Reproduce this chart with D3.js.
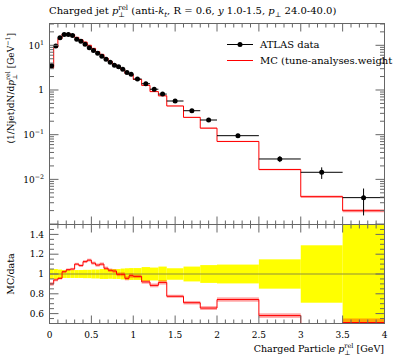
<!DOCTYPE html>
<html lang="en">
<head>
  <meta charset="UTF-8">
  <title>Charged jet p_T^rel – ATLAS vs MC</title>
  <script src="https://d3js.org/d3.v7.min.js"></script>
  <style>
    body { margin: 0; background: #fff; }
    svg { display: block; font-family: "DejaVu Serif", "Liberation Serif", serif; }
    .frame { fill: none; stroke: #666; stroke-width: 1px; }
    .tick { stroke: #666; stroke-width: 1px; }
    .lbl { font-size: 9px; fill: #000; }
  </style>
</head>
<body>
  <svg id="chart" width="397" height="358"></svg>
  <script>
    // Bin edges (GeV)
    const binEdges = [0, 0.05, 0.1, 0.15, 0.2, 0.25, 0.3, 0.35, 0.4, 0.45, 0.5,
                      0.55, 0.6, 0.65, 0.7, 0.75, 0.8, 0.85, 0.9, 0.95, 1.0,
                      1.1, 1.2, 1.3, 1.4, 1.6, 1.8, 2.0, 2.5, 3.0, 3.5, 4.0];
    // ATLAS data, (1/Njet) dN/dp_T^rel
    const dataValues = [3.5, 9.7, 14.8, 17.5, 17.5, 16.5, 13.7, 12.3, 10.5, 8.8,
                        7.7, 6.6, 5.7, 4.9, 4.2, 3.6, 3.3, 2.9, 2.45, 2.25,
                        1.76, 1.38, 1.04, 0.81, 0.567, 0.344, 0.213, 0.095, 0.0286, 0.0144, 0.0039];
    // relative data uncertainty (yellow band)
    const dataErr = [0.05, 0.05, 0.045, 0.04, 0.04, 0.04, 0.04, 0.04, 0.042, 0.042,
                     0.045, 0.045, 0.05, 0.05, 0.048, 0.05, 0.05, 0.055, 0.058, 0.06,
                     0.06, 0.07, 0.065, 0.075, 0.058, 0.075, 0.09, 0.095, 0.148, 0.29, 0.6];
    // MC prediction
    const mcValues = [3.15, 9.12, 14.15, 17.9, 18.27, 17.33, 15.07, 13.35, 11.81, 10.03,
                      8.55, 7.19, 6.27, 5.18, 4.36, 3.71, 3.29, 2.89, 2.34, 2.21,
                      1.72, 1.27, 0.92, 0.741, 0.439, 0.244, 0.140, 0.0705, 0.0166, 0.0041, 0.00199];
    const mcErr = [0.02, 0.015, 0.012, 0.012, 0.012, 0.012, 0.012, 0.012, 0.013, 0.013,
                   0.014, 0.015, 0.015, 0.016, 0.017, 0.018, 0.019, 0.02, 0.021, 0.022,
                   0.018, 0.02, 0.022, 0.024, 0.02, 0.025, 0.03, 0.03, 0.04, 0.06, 0.08];
    // MC / data
    const ratioValues = [0.90, 0.94, 0.956, 1.023, 1.044, 1.05, 1.10, 1.085, 1.125, 1.14,
                         1.11, 1.09, 1.10, 1.058, 1.038, 1.03, 0.997, 0.997, 0.956, 0.983,
                         0.976, 0.92, 0.885, 0.915, 0.775, 0.71, 0.656, 0.742, 0.58, 0.285, 0.51];

    const padL = 49.5, padR = 384.5, padT = 23.5, padM = 224.5, padB = 323.5;

    const svg = d3.select("#chart");
    const x = d3.scaleLinear().domain([0, 4]).range([padL, padR]);
    const y = d3.scaleLog().domain([Math.pow(10, -3.01), Math.pow(10, 1.488)]).range([padM, padT]);
    const r = d3.scaleLinear().domain([0.5, 1.5]).range([padB, padM]);

    const bins = d3.range(dataValues.length).map(i => ({
      x0: binEdges[i], x1: binEdges[i + 1],
      d: dataValues[i], de: dataErr[i],
      mc: mcValues[i], me: mcErr[i], ratio: ratioValues[i]
    }));

    // clip paths
    const defs = svg.append("defs");
    defs.append("clipPath").attr("id", "clipMain").append("rect")
      .attr("x", padL).attr("y", padT).attr("width", padR - padL).attr("height", padM - padT);
    defs.append("clipPath").attr("id", "clipRatio").append("rect")
      .attr("x", padL).attr("y", padM).attr("width", padR - padL).attr("height", padB - padM);

    function stepPath(vals, ys) {
      let p = "";
      bins.forEach((b, i) => {
        p += (i === 0 ? "M" : "L") + x(b.x0) + "," + ys(vals[i]) + "H" + x(b.x1);
      });
      return p;
    }

    // rich text with italics, sub/superscripts (stacked sub under sup)
    function rich(sel, parts, size) {
      let shift = 0, lastW = 0, pendingDx = 0;
      parts.forEach(p => {
        const target = p.sup ? -size * 0.4 : p.sub ? size * 0.3 : 0;
        const ts = sel.append("tspan").attr("dy", target - shift).text(p.t);
        if (p.sup || p.sub) ts.attr("font-size", size * 0.7);
        if (p.it) ts.attr("font-style", "italic");
        let dx = pendingDx; pendingDx = 0;
        if (p.stack) dx -= lastW;
        if (dx) ts.attr("dx", dx);
        const w = ts.node().getComputedTextLength();
        if (p.stack && lastW > w) pendingDx = lastW - w;
        lastW = w;
        shift = target;
      });
      if (shift) sel.append("tspan").attr("dy", -shift).text("");
    }

    // ---- main panel ----
    const gMain = svg.append("g").attr("clip-path", "url(#clipMain)");

    gMain.selectAll("rect.mcband").data(bins).join("rect")
      .attr("x", b => x(b.x0)).attr("width", b => x(b.x1) - x(b.x0))
      .attr("y", b => y(b.mc * (1 + b.me)))
      .attr("height", b => y(b.mc * (1 - b.me)) - y(b.mc * (1 + b.me)))
      .attr("fill", "rgba(255,0,0,0.35)");

    gMain.append("path")
      .attr("d", stepPath(mcValues, y))
      .attr("fill", "none").attr("stroke", "#f00").attr("stroke-width", 1);

    const pts = gMain.selectAll("g.pt").data(bins).join("g");
    pts.append("line")
      .attr("x1", b => x(b.x0)).attr("x2", b => x(b.x1))
      .attr("y1", b => y(b.d)).attr("y2", b => y(b.d))
      .attr("stroke", "#000").attr("stroke-width", 1);
    pts.append("line")
      .attr("x1", b => x((b.x0 + b.x1) / 2)).attr("x2", b => x((b.x0 + b.x1) / 2))
      .attr("y1", b => y(b.d * (1 + b.de))).attr("y2", b => y(Math.max(b.d * (1 - b.de), 1e-4)))
      .attr("stroke", "#000").attr("stroke-width", 1);
    pts.append("circle")
      .attr("cx", b => x((b.x0 + b.x1) / 2)).attr("cy", b => y(b.d))
      .attr("r", 2.5).attr("fill", "#000");

    // ---- ratio panel ----
    const gRatio = svg.append("g").attr("clip-path", "url(#clipRatio)");
    gRatio.selectAll("rect.band").data(bins).join("rect")
      .attr("x", b => x(b.x0)).attr("width", b => x(b.x1) - x(b.x0))
      .attr("y", b => r(1 + b.de)).attr("height", b => r(1 - b.de) - r(1 + b.de))
      .attr("fill", "#ffff00");
    gRatio.append("line")
      .attr("x1", padL).attr("x2", padR).attr("y1", r(1)).attr("y2", r(1))
      .attr("stroke", "#8f8f3a").attr("stroke-width", 1);
    gRatio.selectAll("rect.mcr").data(bins).join("rect")
      .attr("x", b => x(b.x0)).attr("width", b => x(b.x1) - x(b.x0))
      .attr("y", b => r(b.ratio * (1 + b.me)))
      .attr("height", b => r(b.ratio * (1 - b.me)) - r(b.ratio * (1 + b.me)))
      .attr("fill", "rgba(255,0,0,0.35)");
    gRatio.append("path")
      .attr("d", stepPath(ratioValues, r))
      .attr("fill", "none").attr("stroke", "#f00").attr("stroke-width", 1);

    // ---- frames and ticks ----
    const gAx = svg.append("g");
    gAx.append("rect").attr("class", "frame")
      .attr("x", padL).attr("y", padT).attr("width", padR - padL).attr("height", padM - padT);
    gAx.append("rect").attr("class", "frame")
      .attr("x", padL).attr("y", padM).attr("width", padR - padL).attr("height", padB - padM);

    const xMajor = d3.range(0, 4.001, 0.5);
    const xMinor = d3.range(0, 4.001, 0.1).filter(v => Math.abs(v * 2 - Math.round(v * 2)) > 1e-6);
    function xTicks(y0, dir) {
      xMajor.forEach(v => gAx.append("line").attr("class", "tick")
        .attr("x1", x(v)).attr("x2", x(v)).attr("y1", y0).attr("y2", y0 + dir * 8));
      xMinor.forEach(v => gAx.append("line").attr("class", "tick")
        .attr("x1", x(v)).attr("x2", x(v)).attr("y1", y0).attr("y2", y0 + dir * 4));
    }
    xTicks(padT, 1); xTicks(padM, -1); xTicks(padM, 1); xTicks(padB, -1);

    function yTick(yy, len) {
      gAx.append("line").attr("class", "tick").attr("x1", padL).attr("x2", padL + len).attr("y1", yy).attr("y2", yy);
      gAx.append("line").attr("class", "tick").attr("x1", padR).attr("x2", padR - len).attr("y1", yy).attr("y2", yy);
    }
    const [ylo, yhi] = y.domain();
    for (let e = -3; e <= 1; e++) {
      for (let k = 1; k <= 9; k++) {
        const v = k * Math.pow(10, e);
        if (v < ylo || v > yhi) continue;
        yTick(y(v), k === 1 ? 9 : 4.5);
      }
    }
    const rMajor = [0.6, 0.8, 1.0, 1.2, 1.4];
    d3.range(0.5, 1.501, 0.05).forEach(v => {
      const isMajor = rMajor.some(m => Math.abs(m - v) < 1e-6);
      yTick(r(v), isMajor ? 9 : 4.5);
    });

    // tick labels
    const xLabels = ["0", "0.5", "1", "1.5", "2", "2.5", "3", "3.5", "4"];
    xMajor.forEach((v, i) => svg.append("text").attr("class", "lbl")
      .attr("x", x(v)).attr("y", 338).attr("text-anchor", "middle").text(xLabels[i]));

    const yMajorVals = [10, 1, 0.1, 0.01];
    const yMajorSup = ["1", null, "\u22121", "\u22122"];
    yMajorVals.forEach((v, i) => {
      const t = svg.append("text").attr("class", "lbl")
        .attr("x", 44).attr("y", y(v) + 3.2).attr("text-anchor", "end");
      if (yMajorSup[i]) rich(t, [{ t: "10" }, { t: yMajorSup[i], sup: true }], 9);
      else t.text("1");
    });
    const rLabels = ["0.6", "0.8", "1", "1.2", "1.4"];
    rMajor.forEach((v, i) => svg.append("text").attr("class", "lbl")
      .attr("x", 44).attr("y", r(v) + 3.2).attr("text-anchor", "end").text(rLabels[i]));

    // title
    const title = svg.append("text").attr("x", 49).attr("y", 14).attr("font-size", 10);
    rich(title, [
      { t: "Charged jet " }, { t: "p", it: true }, { t: "rel", sup: true }, { t: "\u22a5", sub: true, stack: true },
      { t: " (anti-" }, { t: "k", it: true }, { t: "t", sub: true, it: true },
      { t: ", R = 0.6, " }, { t: "y", it: true }, { t: " 1.0-1.5, " },
      { t: "p", it: true }, { t: "\u22a5", sub: true }, { t: " 24.0-40.0)" }
    ], 10);

    // axis titles
    const yl = svg.append("text").attr("transform", "translate(14,33) rotate(-90)")
      .attr("text-anchor", "end").attr("font-size", 9);
    rich(yl, [
      { t: "(1/Njet)dN/d" }, { t: "p", it: true }, { t: "rel", sup: true }, { t: "\u22a5", sub: true, stack: true },
      { t: " [GeV" }, { t: "\u22121", sup: true }, { t: "]" }
    ], 9);

    svg.append("text").attr("transform", "translate(14,274) rotate(-90)")
      .attr("text-anchor", "middle").attr("font-size", 9.5).text("MC/data");

    const xl = svg.append("text").attr("x", 384).attr("y", 352)
      .attr("text-anchor", "end").attr("font-size", 9.5);
    rich(xl, [
      { t: "Charged Particle " }, { t: "p", it: true }, { t: "rel", sup: true }, { t: "\u22a5", sub: true, stack: true },
      { t: " [GeV]" }
    ], 9.5);

    // legend
    const leg = svg.append("g");
    leg.append("line").attr("x1", 227).attr("x2", 253).attr("y1", 44.5).attr("y2", 44.5)
      .attr("stroke", "#000").attr("stroke-width", 1);
    leg.append("circle").attr("cx", 240).attr("cy", 44.5).attr("r", 2.5).attr("fill", "#000");
    leg.append("text").attr("x", 260).attr("y", 48).attr("font-size", 10).text("ATLAS data");
    leg.append("line").attr("x1", 227).attr("x2", 253).attr("y1", 60.5).attr("y2", 60.5)
      .attr("stroke", "#f00").attr("stroke-width", 1);
    leg.append("text").attr("x", 260).attr("y", 64).attr("font-size", 10).text("MC (tune-analyses.weight");
  </script>
</body>
</html>
